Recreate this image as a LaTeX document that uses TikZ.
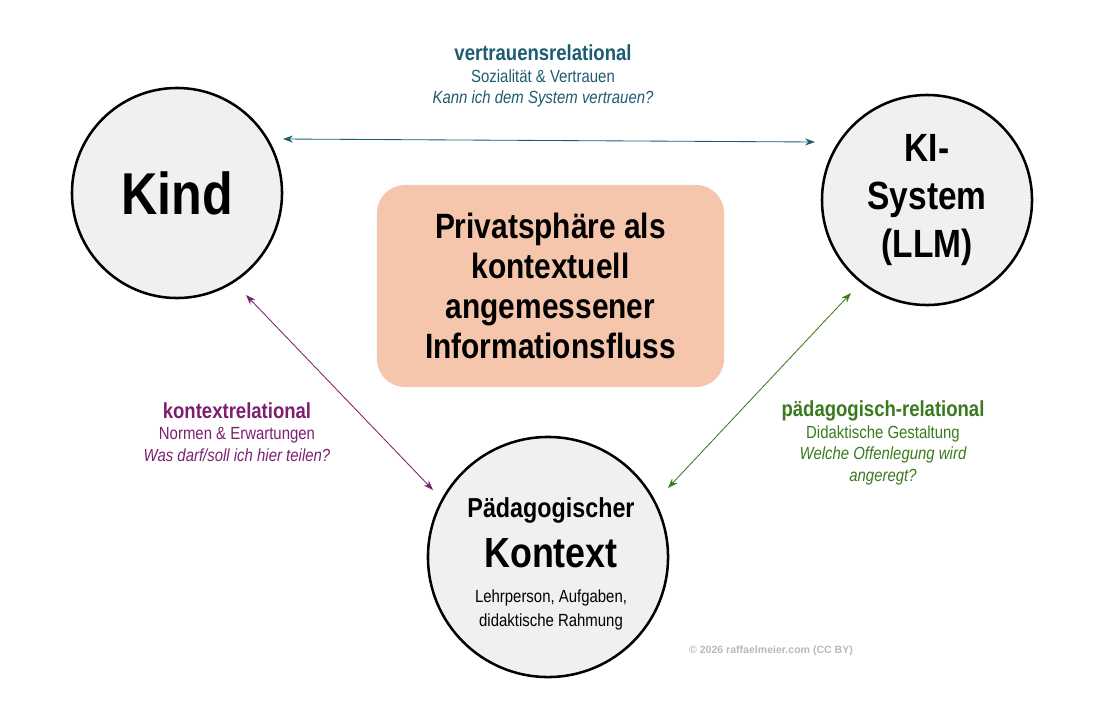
\documentclass[tikz,border=0pt]{standalone}
\usetikzlibrary{arrows.meta}
\usepackage{fontspec}
\setmainfont{Liberation Sans}[FakeStretch=0.85]
\newfontfamily\plainf{Liberation Sans}
\begin{document}
\begin{tikzpicture}[x=0.025cm,y=-0.025cm,
  circ/.style={circle,draw=black,line width=1.8pt,fill=gray!12,inner sep=0pt},
  conn/.style={{Stealth[length=7pt,width=5pt]}-{Stealth[length=7pt,width=5pt]},line width=0.6pt},
  lab/.style={align=center,font=\fontsize{12.5}{15.5}\selectfont}]
\useasboundingbox (0,0) rectangle (1110,718);
\definecolor{cblue}{HTML}{1D5B70}
\definecolor{cpurp}{HTML}{7B1F6E}
\definecolor{cgreen}{HTML}{3A7A1E}
\definecolor{cbox}{HTML}{F5C6AB}
\node[circ,minimum size=5.25cm] (kind) at (177,193) {};
\node[font=\bfseries\fontsize{42}{46}\selectfont] (kindt) at (kind) {Kind};
\node[circ,minimum size=5.25cm] (ki) at (927,200) {};
\node[font=\bfseries\fontsize{28}{34}\selectfont,align=center] (kit) at (ki) {KI-\\System\\(LLM)};
\node[circ,minimum size=6cm] (pk) at (548,557) {};
\node[font=\bfseries\fontsize{19.5}{22}\selectfont] (pk1) at (551,510) {Pädagogischer};
\node[font=\bfseries\fontsize{30}{32}\selectfont] (pk2) at (551,553) {Kontext};
\node[align=center,font=\fontsize{12.5}{17}\selectfont] (pk3) at (551,610) {Lehrperson, Aufgaben,\\didaktische Rahmung};
\node[fill=cbox,rounded corners=0.7cm,minimum width=8.675cm,minimum height=5.05cm,align=center,
  font=\bfseries\fontsize{25}{28.5}\selectfont] (box) at (550.5,286) {Privatsphäre als\\kontextuell\\angemessener\\Informationsfluss};
\coordinate (a1) at (283,139); \coordinate (a2) at (815,142);
\coordinate (b1) at (246,295); \coordinate (b2) at (433,490);
\coordinate (c1) at (851,293); \coordinate (c2) at (668,488);
\draw[conn,cblue] (a1) -- (a2);
\draw[conn,cpurp] (b1) -- (b2);
\draw[conn,cgreen] (c1) -- (c2);
\node[lab,text=cblue] (l1) at (543,76) {{\bfseries\fontsize{15.5}{18}\selectfont vertrauensrelational}\\Sozialität \& Vertrauen\\\itshape Kann ich dem System vertrauen?};
\node[lab,text=cpurp] (l2) at (237,432) {{\bfseries\fontsize{15.5}{18}\selectfont kontextrelational}\\Normen \& Erwartungen\\\itshape Was darf/soll ich hier teilen?};
\node[lab,text=cgreen] (l3) at (883,443) {{\bfseries\fontsize{15.5}{18}\selectfont pädagogisch-relational}\\Didaktische Gestaltung\\\itshape Welche Offenlegung wird\\\itshape angeregt?};
\node[text=gray!55,font=\plainf\bfseries\fontsize{7.5}{8}\selectfont] (cp) at (771,651) {© 2026 raffaelmeier.com (CC BY)};
\end{tikzpicture}
\end{document}
